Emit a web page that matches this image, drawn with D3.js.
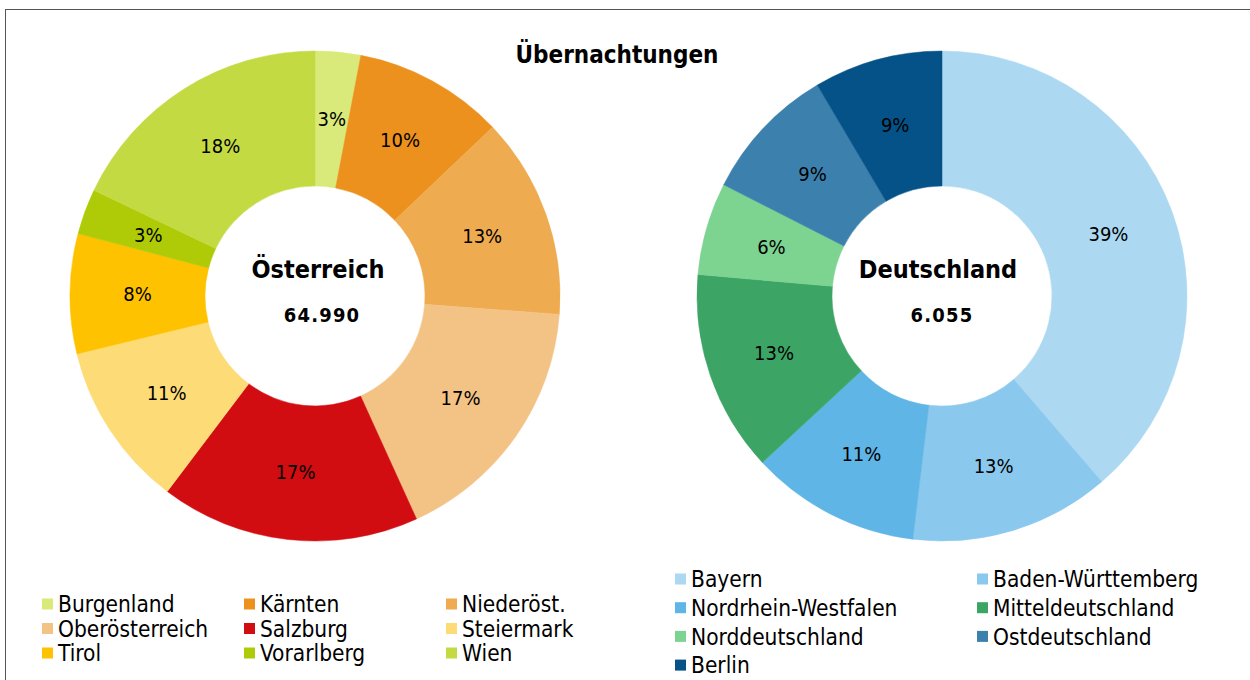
<!DOCTYPE html>
<html>
<head>
<meta charset="utf-8">
<script src="https://cdn.jsdelivr.net/npm/d3@7"></script>
<style>
  html, body { margin: 0; padding: 0; background: #fff; }
  svg { display: block; font-family: "DejaVu Sans Condensed", "DejaVu Sans", sans-serif; }
</style>
</head>
<body>
<script>
'use strict';

// Österreich
const atNames = ['Burgenland', 'Kärnten', 'Niederöst.', 'Oberösterreich', 'Salzburg', 'Steiermark', 'Tirol', 'Vorarlberg', 'Wien'];
const atShares = [3.0, 9.9, 13.3, 17.0, 17.1, 10.9, 7.9, 3.0, 17.9];
const atColors = ['#d9ea7a', '#ec911e', '#efab4f', '#f3c386', '#d20d12', '#fddc78', '#fec200', '#afcb08', '#c3da43'];

// Deutschland
const deNames = ['Bayern', 'Baden-Württemberg', 'Nordrhein-Westfalen', 'Mitteldeutschland', 'Norddeutschland', 'Ostdeutschland', 'Berlin'];
const deShares = [38.7, 13.2, 11.2, 13.3, 6.1, 9.0, 8.5];
const deColors = ['#acd8f1', '#8ac8ee', '#5fb5e6', '#3ca565', '#7dd390', '#3c80ad', '#045287'];

const width = 1250, height = 680;

const svg = d3.select('body').append('svg')
  .attr('width', width)
  .attr('height', height);

// outer frame (runs off right and bottom)
svg.append('rect')
  .attr('x', 5.5).attr('y', 9.5)
  .attr('width', 1300).attr('height', 700)
  .attr('fill', 'none')
  .attr('stroke', '#555')
  .attr('stroke-width', 1);

svg.append('text')
  .attr('x', 617).attr('y', 63)
  .attr('text-anchor', 'middle')
  .attr('font-weight', 'bold')
  .attr('font-size', 24)
  .text('Übernachtungen');

function donut(cx, cy, names, shares, colors, title, total, tx) {
  const g = svg.append('g').attr('transform', `translate(${cx},${cy})`);
  const pie = d3.pie().sort(null).value(d => d)(shares);
  const arc = d3.arc().innerRadius(110).outerRadius(245);
  const color = d3.scaleOrdinal(d3.range(names.length), colors);

  g.selectAll('path')
    .data(pie)
    .join('path')
      .attr('d', arc)
      .attr('fill', (d, i) => color(i))
      .attr('stroke', (d, i) => color(i))
      .attr('stroke-width', 0.5);

  g.selectAll('text.lbl')
    .data(pie)
    .join('text')
      .attr('class', 'lbl')
      .attr('transform', d => `translate(${arc.centroid(d)})`)
      .attr('text-anchor', 'middle')
      .attr('dy', '0.35em')
      .attr('font-size', 20)
      .attr('fill', '#000')
      .text(d => Math.round(d.data) + '%');

  g.append('text')
    .attr('x', tx)
    .attr('y', -18)
    .attr('text-anchor', 'middle')
    .attr('font-weight', 'bold')
    .attr('font-size', 25)
    .text(title);
  g.append('text')
    .attr('x', tx + 4)
    .attr('y', 26)
    .attr('text-anchor', 'middle')
    .attr('font-weight', 'bold')
    .attr('font-size', 20)
    .attr('letter-spacing', 1.2)
    .text(total);
}

donut(315, 296, atNames, atShares, atColors, 'Österreich', '64.990', 3);
donut(942, 296, deNames, deShares, deColors, 'Deutschland', '6.055', -4);

function legend(x0, y0, colW, rowH, cols, names, colors) {
  const item = svg.append('g').selectAll('g')
    .data(names)
    .join('g')
      .attr('transform', (d, i) => `translate(${x0 + (i % cols) * colW},${y0 + Math.floor(i / cols) * rowH})`);
  item.append('rect')
    .attr('x', 0).attr('y', -5.5)
    .attr('width', 11).attr('height', 11)
    .attr('fill', (d, i) => colors[i]);
  item.append('text')
    .attr('x', 16)
    .attr('dy', '0.36em')
    .attr('font-size', 22.5)
    .text(d => d);
}

legend(42, 604, 202, 24.5, 3, atNames, atColors);
legend(675, 579, 302, 28.7, 2, deNames, deColors);
</script>
</body>
</html>
